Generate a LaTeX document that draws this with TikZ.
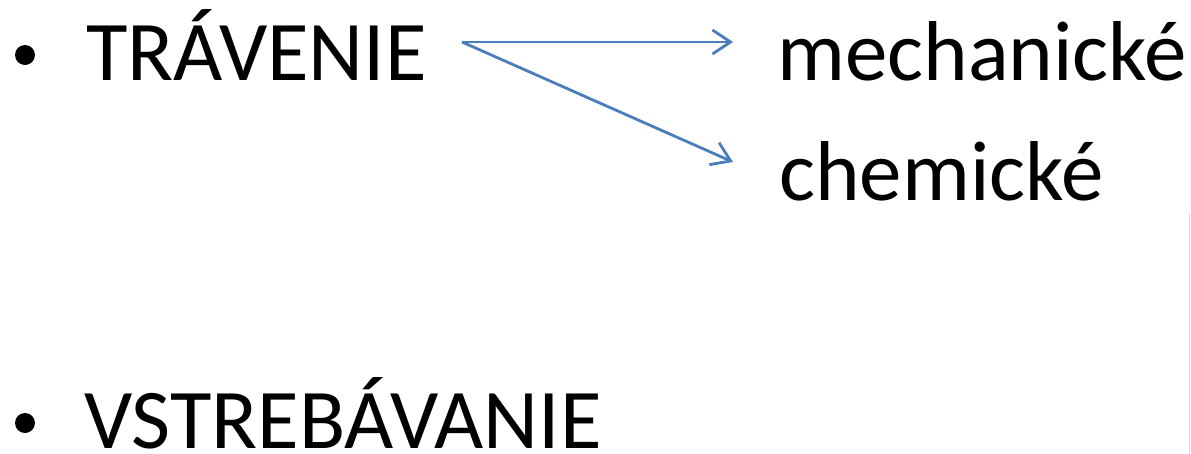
\documentclass[tikz,border=0pt]{standalone}
\usepackage{fontspec}
\setmainfont{Carlito}
\usetikzlibrary{positioning,arrows.meta}
\definecolor{arrowblue}{HTML}{4A7EBB}
\definecolor{edgebeige}{HTML}{E2D3C2}
\begin{document}
\begin{tikzpicture}[x=1pt,y=-1pt,
  word/.style={inner sep=0pt, anchor=base west, font=\fontsize{85}{100}\selectfont},
  dot/.style={circle, fill=black, inner sep=0pt, minimum size=20pt},
  link/.style={-{Straight Barb[length=18pt,width=24pt,line width=2.8pt]}, draw=arrowblue, line width=2.8pt}]
\useasboundingbox (0,0) rectangle (1191,453);
\node[dot] (bul1) at (25,55) {};
\node[word] (trav) at (86,80) {TRÁVENIE};
\node[dot] (bul2) at (25,423) {};
\node[word] (vstr) at (84,448) {VSTREBÁVANIE};
\node[word] (mech) at (777,80) {mechanické};
\node[word] (chem) at (779,200) {chemické};
\coordinate (split) at (462,42);
\coordinate (tomech) at (733,42);
\coordinate (tochem) at (733,162);
\draw[link] (split) -- (tomech);
\draw[link] (split) -- (tochem);
% edge of a picture at the right
\draw[line width=1pt, edgebeige] (1189,214) -- (1189,453);
\end{tikzpicture}
\end{document}
